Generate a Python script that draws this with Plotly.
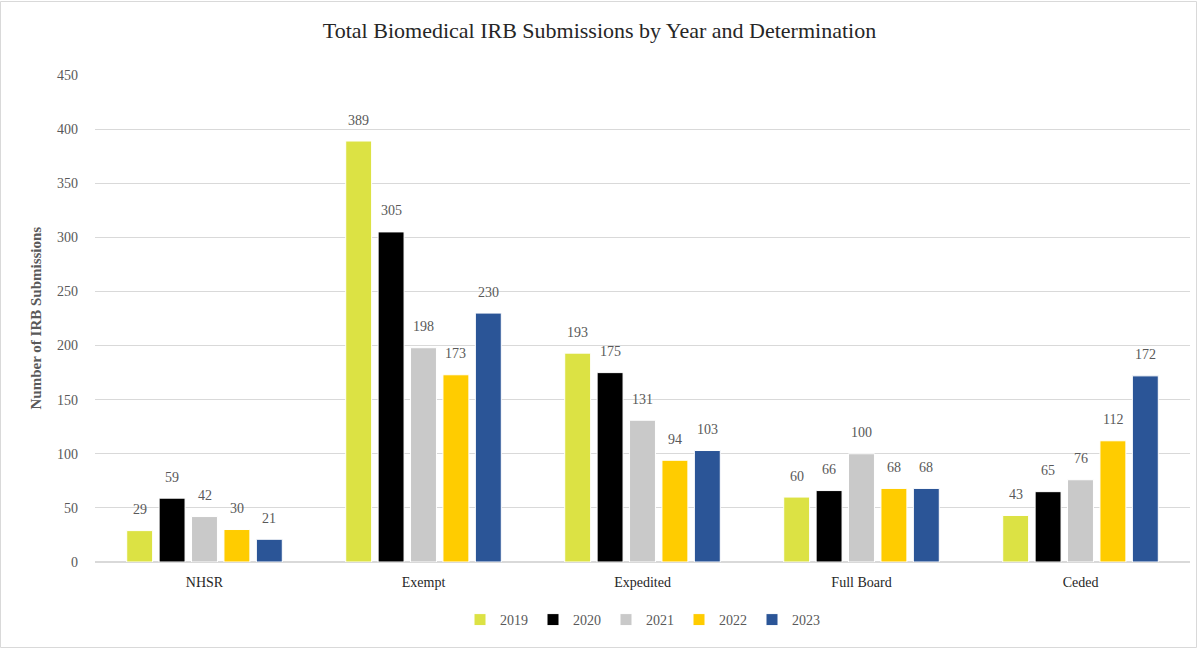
import plotly.graph_objects as go

categories = ["NHSR", "Exempt", "Expedited", "Full Board", "Ceded"]
years = ["2019", "2020", "2021", "2022", "2023"]
values = {
    "2019": [29, 389, 193, 60, 43],
    "2020": [59, 305, 175, 66, 65],
    "2021": [42, 198, 131, 100, 76],
    "2022": [30, 173, 94, 68, 112],
    "2023": [21, 230, 103, 68, 172],
}
colors = {
    "2019": "#DCE244",
    "2020": "#000000",
    "2021": "#C9C9C9",
    "2022": "#FFCC00",
    "2023": "#2B5597",
}
y_ticks = [0, 50, 100, 150, 200, 250, 300, 350, 400, 450]

FONT = "Liberation Serif"
GRAY = "#595959"

L, R, T, B = 95, 9, 75, 87
W, H = 1199, 649
pw = W - L - R
ph = H - T - B

BARGAP = 0.26
GROUPGAP = 0.2
cat_px = pw / len(categories)
slot_px = cat_px * (1 - BARGAP) / len(years)

fig = go.Figure()
annotations = []
for i, yr in enumerate(years):
    fig.add_trace(go.Bar(
        name=yr, x=categories, y=values[yr],
        marker=dict(color=colors[yr], line=dict(color="white", width=1)),
    ))
    for c, v in zip(categories, values[yr]):
        annotations.append(dict(
            x=c, y=v, xref="x", yref="y", text=str(v), showarrow=False,
            xshift=(i - (len(years) - 1) / 2) * slot_px, yshift=21,
            yanchor="middle", xanchor="center",
            font=dict(family=FONT, size=14, color=GRAY),
        ))

annotations.append(dict(
    text="<b>Number of IRB Submissions</b>", xref="paper", yref="paper",
    x=-(95 - 35) / pw, y=0.5, textangle=-90, showarrow=False,
    xanchor="center", yanchor="middle",
    font=dict(family=FONT, size=15, color=GRAY),
))

fig.update_layout(
    width=W, height=H,
    margin=dict(l=L, r=R, t=T, b=B),
    paper_bgcolor="white", plot_bgcolor="white",
    barmode="group", bargap=BARGAP, bargroupgap=GROUPGAP,
    font=dict(family=FONT, color=GRAY, size=14),
    title=dict(text="Total Biomedical IRB Submissions by Year and Determination",
               x=0.5, xanchor="center", y=1 - 30 / H, yanchor="middle",
               font=dict(family=FONT, size=22, color="#262626")),
    legend=dict(orientation="h", x=0.5, xanchor="center", y=-(620 - (T + ph)) / ph,
                yanchor="middle",
                font=dict(family=FONT, size=14, color=GRAY), traceorder="normal",
                itemwidth=30),
    xaxis=dict(showline=False, ticks="", automargin=False,
               tickfont=dict(family=FONT, size=14, color="#262626"),
               showgrid=False, ticklabelstandoff=10),
    yaxis=dict(range=[0, 450], tickvals=y_ticks, showgrid=True, gridcolor="#D9D9D9",
               gridwidth=1, zeroline=True, zerolinecolor="#D9D9D9", ticks="",
               automargin=False,
               tickfont=dict(family=FONT, size=14, color=GRAY), ticklabelstandoff=16),
    annotations=annotations,
    shapes=[dict(type="rect", xref="paper", yref="paper",
                 x0=(0.5 - L) / pw, x1=(W - 2.5 - L) / pw,
                 y0=-(H - 1.5 - T - ph) / ph, y1=1 + (T - 1.5) / ph,
                 line=dict(color="#D9D9D9", width=1), fillcolor="rgba(0,0,0,0)")],
)

fig.write_html("out.html", config={"displayModeBar": False},
               post_script="document.body.style.margin='0';document.body.style.overflow='hidden';")
